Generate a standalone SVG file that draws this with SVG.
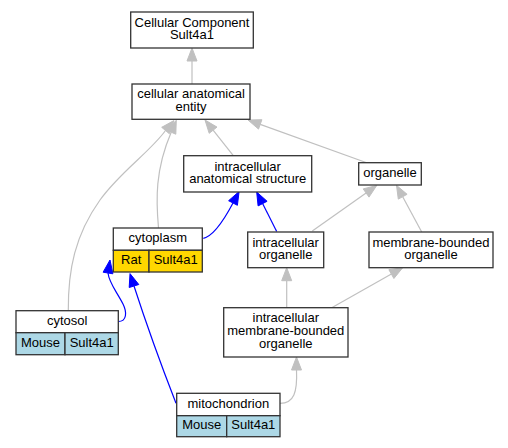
<svg xmlns="http://www.w3.org/2000/svg" width="508" height="448" viewBox="0 0 508 448">
<style>
.box{fill:#ffffff;stroke:#333333;stroke-width:1.3}
.rat{fill:#ffd700;stroke:#333333;stroke-width:1.3}
.mouse{fill:#add8e6;stroke:#333333;stroke-width:1.3}
text{font-family:"Liberation Sans",Arial,sans-serif;font-size:13px;fill:#000000;text-anchor:middle}
.g{fill:none;stroke:#c0c0c0;stroke-width:1.2}
.b{fill:none;stroke:#0000ff;stroke-width:1.2}
.ga{fill:#c0c0c0;stroke:#c0c0c0;stroke-width:1}
.ba{fill:#0000ff;stroke:#0000ff;stroke-width:1}
</style>
<rect width="508" height="448" fill="#ffffff"/>
<g id="edges">
<path class="g" d="M192,84 L192,61"/>
<polygon class="ga" points="192,48 187,61 197,61"/>
<path class="g" d="M233.3,155.7 L213.1,130.2"/>
<polygon class="ga" points="205,120 217,127.1 209.2,133.3"/>
<path class="g" d="M366.7,162.7 L260.2,124.4"/>
<polygon class="ga" points="248,120 261.9,119.7 258.5,129.1"/>
<path class="g" d="M158.5,228 C156,200 155,170 171.2,132.2"/>
<polygon class="ga" points="176.3,120.3 175.8,134.2 166.6,130.2"/>
<path class="g" d="M68.3,310.7 C68,270 75,235 100,200 C120,172 150,152 165.5,130.5"/>
<polygon class="ga" points="173.9,120.6 169.3,133.7 161.7,127.3"/>
<path class="b" d="M203.3,238.3 C214,236 224,220 233,203"/>
<polygon class="ba" points="239.1,191.5 237.4,205.3 228.6,200.7"/>
<path class="b" d="M276.7,231.5 L262.6,203.6"/>
<polygon class="ba" points="256.7,192 267.1,201.3 258.1,205.9"/>
<path class="g" d="M312.3,231 L366.1,193"/>
<polygon class="ga" points="376.7,185.5 369,197.1 363.2,188.9"/>
<path class="g" d="M421.7,232 L402.7,196.7"/>
<polygon class="ga" points="396.5,185.3 407.1,194.3 398.3,199.1"/>
<path class="g" d="M286.7,307.7 L286.7,280.7"/>
<polygon class="ga" points="286.7,267.7 281.7,280.7 291.7,280.7"/>
<path class="g" d="M331.7,307.7 L391.4,274.1"/>
<polygon class="ga" points="402.7,267.7 393.9,278.5 388.9,269.7"/>
<path class="g" d="M280,403.3 C294,403.3 297.5,392 296.5,370"/>
<polygon class="ga" points="296.5,357 291.5,370 301.5,370"/>
<path class="b" d="M118.3,321.5 C127,321.5 127,312 123,304 C117,292 109,283 108,273"/>
<polygon class="ba" points="110,260 112.9,273.8 103.1,272.2"/>
<path class="b" d="M176,403.3 C165,375 145,320 134,286"/>
<polygon class="ba" points="130,273.6 138.8,284.5 129.2,287.5"/>
</g>
<g id="node-cc">
<rect class="box" x="130.7" y="12" width="122.6" height="36"/>
<text x="192" y="26.6">Cellular Component</text>
<text x="192" y="39.4">Sult4a1</text>
</g>
<g id="node-cae">
<rect class="box" x="132" y="84" width="118" height="35.3"/>
<text x="191" y="98.3">cellular anatomical</text>
<text x="191" y="111.1">entity</text>
</g>
<g id="node-ias">
<rect class="box" x="183.7" y="155.7" width="128" height="36.3"/>
<text x="247.7" y="170.5">intracellular</text>
<text x="247.7" y="183.3">anatomical structure</text>
</g>
<g id="node-organelle">
<rect class="box" x="358.7" y="162.7" width="62.6" height="22.3"/>
<text x="390" y="176.9">organelle</text>
</g>
<g id="node-cytoplasm">
<rect class="box" x="113.3" y="228" width="89" height="22.3"/>
<rect class="rat" x="113.3" y="250.3" width="35.7" height="21.7"/>
<rect class="rat" x="149" y="250.3" width="53.3" height="21.7"/>
<text x="157.8" y="242.2">cytoplasm</text>
<text x="131.2" y="264.2">Rat</text>
<text x="175.7" y="264.2">Sult4a1</text>
</g>
<g id="node-io">
<rect class="box" x="247.7" y="232" width="76" height="35.7"/>
<text x="285.7" y="246.5">intracellular</text>
<text x="285.7" y="259.3">organelle</text>
</g>
<g id="node-mbo">
<rect class="box" x="369" y="232" width="124" height="35.7"/>
<text x="431" y="246.5">membrane-bounded</text>
<text x="431" y="259.3">organelle</text>
</g>
<g id="node-cytosol">
<rect class="box" x="16" y="310.7" width="102.3" height="22"/>
<rect class="mouse" x="16" y="332.7" width="49" height="22"/>
<rect class="mouse" x="65" y="332.7" width="53.3" height="22"/>
<text x="67.2" y="324.7">cytosol</text>
<text x="40.5" y="346.7">Mouse</text>
<text x="91.7" y="346.7">Sult4a1</text>
</g>
<g id="node-imbo">
<rect class="box" x="223.7" y="307.7" width="124.3" height="49.3"/>
<text x="285.8" y="321.8">intracellular</text>
<text x="285.8" y="334.8">membrane-bounded</text>
<text x="285.8" y="347.8">organelle</text>
</g>
<g id="node-mito">
<rect class="box" x="176.7" y="393.3" width="103.3" height="22.4"/>
<rect class="mouse" x="176.7" y="415.7" width="50" height="21"/>
<rect class="mouse" x="226.7" y="415.7" width="53.3" height="21"/>
<text x="228.3" y="407.5">mitochondrion</text>
<text x="201.7" y="429.2">Mouse</text>
<text x="253.3" y="429.2">Sult4a1</text>
</g>
</svg>
